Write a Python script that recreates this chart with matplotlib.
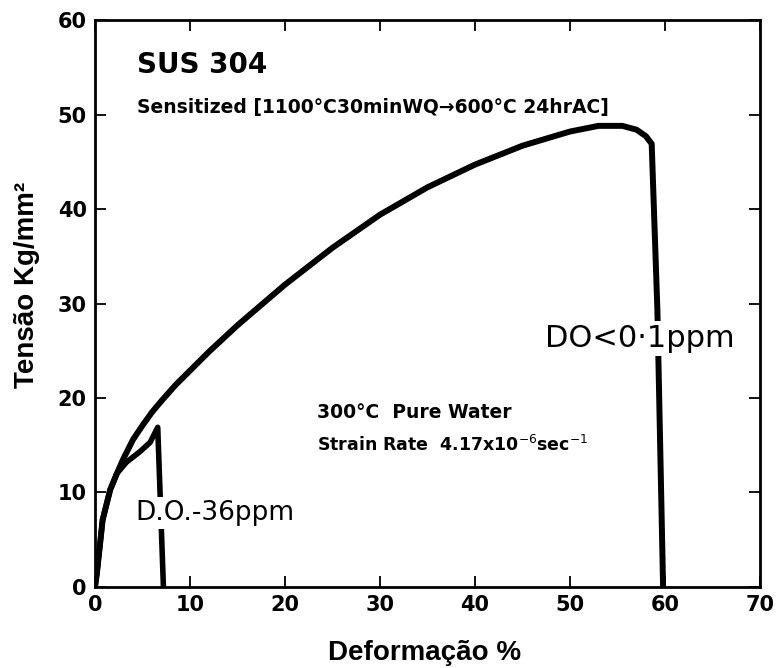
import matplotlib.pyplot as plt

# curve (strain %, stress kg/mm2)
main_x = [0, 0.2, 0.8, 1.6, 2.3, 3.0, 4.0, 5.0, 6.0, 7.0, 8.5, 10.0, 12.0, 15.0, 20.0,
          25.0, 30.0, 35.0, 40.0, 45.0, 50.0, 53.0, 55.5, 57.0, 58.0, 58.6, 59.2, 59.8]
main_y = [0, 1.5, 7.1, 10.3, 12.0, 13.6, 15.6, 17.1, 18.5, 19.7, 21.4, 22.9, 24.9, 27.7, 32.0,
          35.9, 39.4, 42.3, 44.7, 46.7, 48.2, 48.8, 48.8, 48.4, 47.7, 46.9, 29.3, 0]

short_x = [0, 0.2, 0.8, 1.6, 2.3, 3.3, 4.7, 5.8, 6.6, 7.2]
short_y = [0, 1.5, 7.1, 10.3, 12.0, 13.2, 14.3, 15.3, 16.9, 0]

xticks = [0, 10, 20, 30, 40, 50, 60, 70]
yticks = [0, 10, 20, 30, 40, 50, 60]

fig = plt.figure(figsize=(7.77, 6.68), dpi=100)
ax = fig.add_axes([0.1223, 0.1213, 0.8558, 0.8487])

ax.plot(main_x, main_y, color='black', lw=4.3, solid_joinstyle='round',
        solid_capstyle='round', zorder=2)
ax.plot(short_x, short_y, color='black', lw=4.0, solid_joinstyle='round',
        solid_capstyle='round', zorder=2)

ax.set_xlim(0, 70)
ax.set_ylim(0, 60)
ax.set_xticks(xticks)
ax.set_yticks(yticks)
ax.tick_params(direction='in', length=8, width=1.3, top=True, right=True,
               labelsize=15, pad=6)
for lab in ax.get_xticklabels() + ax.get_yticklabels():
    lab.set_fontweight('bold')
for sp in ax.spines.values():
    sp.set_linewidth(2.0)

ax.text(4.4, 55.2, 'SUS 304', fontsize=20, fontweight='bold', va='center')
ax.text(4.4, 50.7, 'Sensitized [1100°C30minWQ\u2192600°C 24hrAC]',
        fontsize=13.5, fontweight='bold', va='center')
ax.text(23.4, 18.5, '300°C  Pure Water', fontsize=13.5, fontweight='bold',
        va='center')
ax.text(23.4, 15.0, 'Strain Rate  4.17x10$^{-6}$sec$^{-1}$', fontsize=12.5,
        fontweight='bold', va='center')
ax.text(4.2, 7.8, 'D.O.-36ppm', fontsize=19, va='center', zorder=3,
        bbox=dict(facecolor='white', edgecolor='none', pad=2))
ax.text(47.4, 26.3, 'DO<0\u00b71ppm', fontsize=22, va='center', zorder=3,
        bbox=dict(facecolor='white', edgecolor='none', pad=2))

ax.set_xlabel('Deformação %', fontsize=20, fontweight='bold',
              fontfamily='Liberation Sans', va='center')
ax.set_ylabel('Tensão Kg/mm²', fontsize=20, fontweight='bold',
              fontfamily='Liberation Sans', va='center')
ax.xaxis.set_label_coords(0.495, -0.116)
ax.yaxis.set_label_coords(-0.102, 0.533)

plt.savefig('out.png', dpi=100)
